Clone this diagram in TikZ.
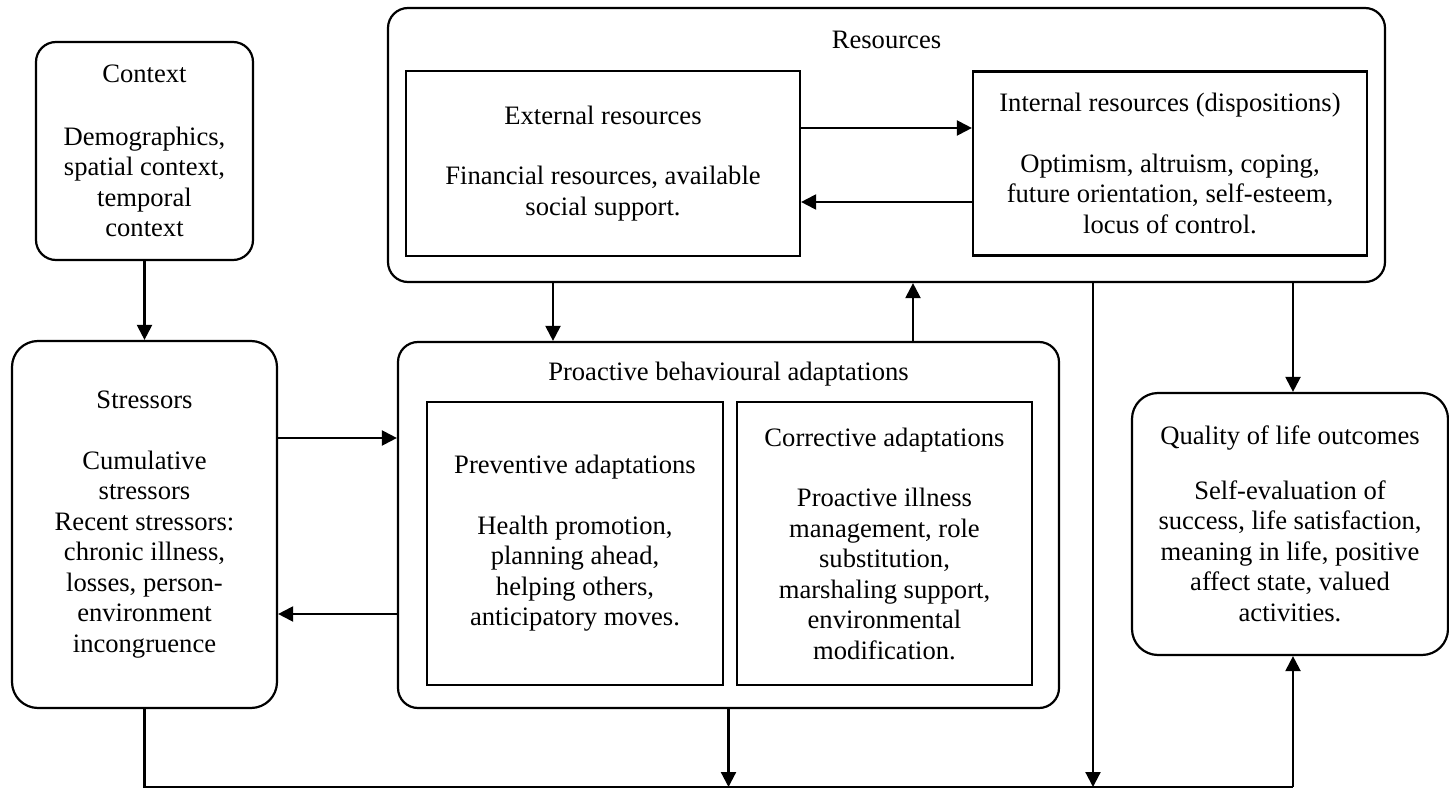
\documentclass[tikz,border=0pt]{standalone}
\usepackage{fontspec}
\setmainfont{Liberation Serif}
\usetikzlibrary{arrows.meta}
\newcommand{\fsz}{\fontsize{26.6}{30.5}\selectfont}
\begin{document}
\begin{tikzpicture}[x=1pt,y=-1pt,
  box/.style={draw, line width=2.2pt, inner sep=0pt, align=center, font=\fsz},
  rbox/.style={box, rounded corners=20pt},
  rrbox/.style={box, rounded corners=26pt},
  lbl/.style={inner sep=0pt, align=center, font=\fsz},
  ln/.style={line width=2.2pt},
  arr/.style={line width=2.2pt, -{Triangle[length=15pt,width=15pt]}}]
\useasboundingbox (0,0) rectangle (1449,789);
% outer boxes
\node[rbox, minimum width=217pt, minimum height=218pt] (context) at (144.5,151)
  {Context\\[32pt]Demographics,\\spatial context,\\temporal\\context};
\node[rrbox, minimum width=265pt, minimum height=367pt] (stressors) at (144.5,524.5)
  {Stressors\\[30pt]Cumulative\\stressors\\Recent stressors:\\chronic illness,\\losses, person-\\environment\\incongruence};
\node[rbox, minimum width=997pt, minimum height=274pt] (resources) at (886.5,145) {};
\node[lbl] (restitle) at (886.5,40) {Resources};
\node[box, minimum width=394pt, minimum height=185pt] (ext) at (603,163.5)
  {External resources\\[30pt]Financial resources, available\\social support.};
\node[box, minimum width=394pt, minimum height=184pt] (int) at (1170,163.5)
  {Internal resources (dispositions)\\[30pt]Optimism, altruism, coping,\\future orientation, self-esteem,\\locus of control.};
\node[rbox, minimum width=661pt, minimum height=366pt] (proactive) at (728.5,525) {};
\node[lbl] (protitle) at (728.5,374) {Proactive behavioural adaptations};
\node[box, minimum width=296pt, minimum height=283pt] (prev) at (575,543.5)
  {Preventive adaptations\\[30pt]Health promotion,\\planning ahead,\\helping others,\\anticipatory moves.};
\node[box, minimum width=295pt, minimum height=283pt] (corr) at (884.5,543.5)
  {Corrective adaptations\\[30pt]Proactive illness\\management, role\\substitution,\\marshaling support,\\environmental\\modification.};
\node[rrbox, minimum width=316pt, minimum height=262pt] (qol) at (1290,524)
  {Quality of life outcomes\\[24pt]Self-evaluation of\\success, life satisfaction,\\meaning in life, positive\\affect state, valued\\activities.};
% connectors
\draw[arr] (context) -- (stressors);
\draw[arr] (stressors.east |- 0,438) -- (proactive.west |- 0,438);
\draw[arr] (proactive.west |- 0,614) -- (stressors.east |- 0,614);
\draw[arr] (ext.east |- 0,128) -- (int.west |- 0,128);
\draw[arr] (int.west |- 0,202) -- (ext.east |- 0,202);
\draw[arr] (resources.south -| 553,0) -- (proactive.north -| 553,0);
\draw[arr] (proactive.north -| 913,0) -- (resources.south -| 913,0);
\draw[arr] (resources.south -| 1293,0) -- (qol.north -| 1293,0);
\coordinate (bl) at (144.5,787);
\coordinate (br) at (1293,787);
\coordinate (rd) at (1093,787);
\draw[ln] (stressors.south) -- (bl) -- (br);
\draw[arr] (br) -- (qol.south -| br);
\draw[arr] (proactive.south) -- (proactive.south |- bl);
\draw[arr] (resources.south -| rd) -- (rd);
\end{tikzpicture}
\end{document}
